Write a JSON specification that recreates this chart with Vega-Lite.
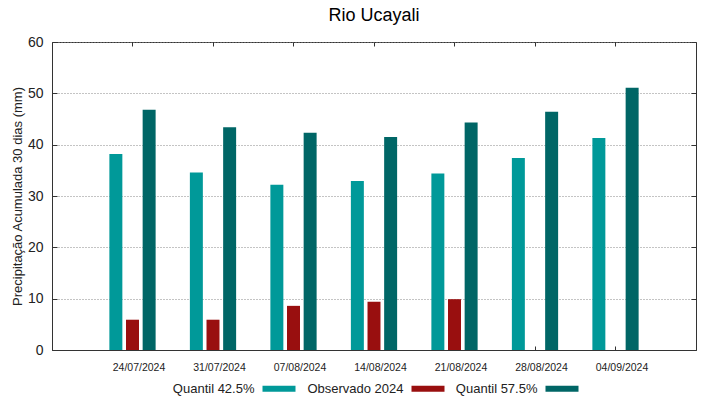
{
  "$schema": "https://vega.github.io/schema/vega-lite/v6.json",
  "width": 644,
  "height": 308,
  "autosize": "none",
  "padding": {"left": 52, "top": 42, "right": 23, "bottom": 49},
  "background": "white",
  "title": {"text": "Rio Ucayali", "fontSize": 18, "fontWeight": "normal", "font": "Liberation Sans", "color": "black", "anchor": "middle", "offset": 10},
  "data": {"values": [
    {"date": "24/07/2024", "serie": "Quantil 42.5%", "valor": 38.2},
    {"date": "24/07/2024", "serie": "Observado 2024", "valor": 5.9},
    {"date": "24/07/2024", "serie": "Quantil 57.5%", "valor": 46.8},
    {"date": "31/07/2024", "serie": "Quantil 42.5%", "valor": 34.6},
    {"date": "31/07/2024", "serie": "Observado 2024", "valor": 5.9},
    {"date": "31/07/2024", "serie": "Quantil 57.5%", "valor": 43.4},
    {"date": "07/08/2024", "serie": "Quantil 42.5%", "valor": 32.2},
    {"date": "07/08/2024", "serie": "Observado 2024", "valor": 8.6},
    {"date": "07/08/2024", "serie": "Quantil 57.5%", "valor": 42.3},
    {"date": "14/08/2024", "serie": "Quantil 42.5%", "valor": 32.9},
    {"date": "14/08/2024", "serie": "Observado 2024", "valor": 9.4},
    {"date": "14/08/2024", "serie": "Quantil 57.5%", "valor": 41.5},
    {"date": "21/08/2024", "serie": "Quantil 42.5%", "valor": 34.4},
    {"date": "21/08/2024", "serie": "Observado 2024", "valor": 9.9},
    {"date": "21/08/2024", "serie": "Quantil 57.5%", "valor": 44.3},
    {"date": "28/08/2024", "serie": "Quantil 42.5%", "valor": 37.4},
    {"date": "28/08/2024", "serie": "Quantil 57.5%", "valor": 46.4},
    {"date": "04/09/2024", "serie": "Quantil 42.5%", "valor": 41.3},
    {"date": "04/09/2024", "serie": "Quantil 57.5%", "valor": 51.1}
  ]},
  "layer": [
    {
      "mark": {"type": "bar"},
      "encoding": {
        "x": {"field": "date", "type": "ordinal", "sort": null,
          "scale": {"paddingInner": 0.38, "paddingOuter": 0.69},
          "axis": {"orient": "bottom", "title": null, "labelAngle": 0, "labelFontSize": 10.5, "labelOffset": 6.5, "labelPadding": 16.5, "tickSize": -4, "tickColor": "#333", "domainColor": "#333", "labelColor": "#222", "grid": false}},
        "xOffset": {"field": "serie", "type": "nominal", "sort": ["Quantil 42.5%", "Observado 2024", "Quantil 57.5%"],
          "scale": {"paddingInner": 0.22, "paddingOuter": 0.11}},
        "y": {"field": "valor", "type": "quantitative",
          "scale": {"domain": [0, 60], "nice": false},
          "axis": {"orient": "left", "values": [0, 10, 20, 30, 40, 50, 60], "title": "Precipitação Acumulada 30 dias (mm)", "titleFontSize": 13, "titleFontWeight": "normal", "titleColor": "#222", "titlePadding": 3, "labelFontSize": 14, "labelColor": "#222", "labelPadding": 14, "tickSize": -5, "tickColor": "#333", "domainColor": "#333", "grid": true, "gridColor": "#888", "gridDash": [1, 2], "gridWidth": 1}},
        "color": {"field": "serie", "type": "nominal",
          "scale": {"domain": ["Quantil 42.5%", "Observado 2024", "Quantil 57.5%"], "range": ["#009999", "#990f0f", "#006666"]},
          "legend": {"orient": "none", "legendX": 210.5, "legendY": 330, "direction": "horizontal", "title": null, "labelFontSize": 13, "labelColor": "#222", "symbolType": "M-1,-0.18H1V0.18H-1Z", "symbolSize": 1089, "symbolStrokeWidth": 0, "labelAlign": "right", "labelOffset": -41, "columnPadding": 11}}
      }
    },
    {
      "mark": {"type": "bar", "opacity": 0},
      "encoding": {
        "x": {"field": "date", "type": "ordinal", "sort": null,
          "axis": {"orient": "top", "title": null, "labels": false, "tickSize": -4, "tickColor": "#333", "domain": false, "grid": false}},
        "xOffset": {"field": "serie", "type": "nominal", "sort": ["Quantil 42.5%", "Observado 2024", "Quantil 57.5%"]},
        "y": {"field": "valor", "type": "quantitative",
          "axis": {"orient": "right", "values": [0, 10, 20, 30, 40, 50, 60], "title": null, "labels": false, "tickSize": -5, "tickColor": "#333", "domain": false, "grid": false}}
      }
    }
  ],
  "resolve": {"axis": {"x": "independent", "y": "independent"}},
  "config": {
    "font": "Liberation Sans",
    "view": {"stroke": "#333", "strokeWidth": 1}
  }
}
